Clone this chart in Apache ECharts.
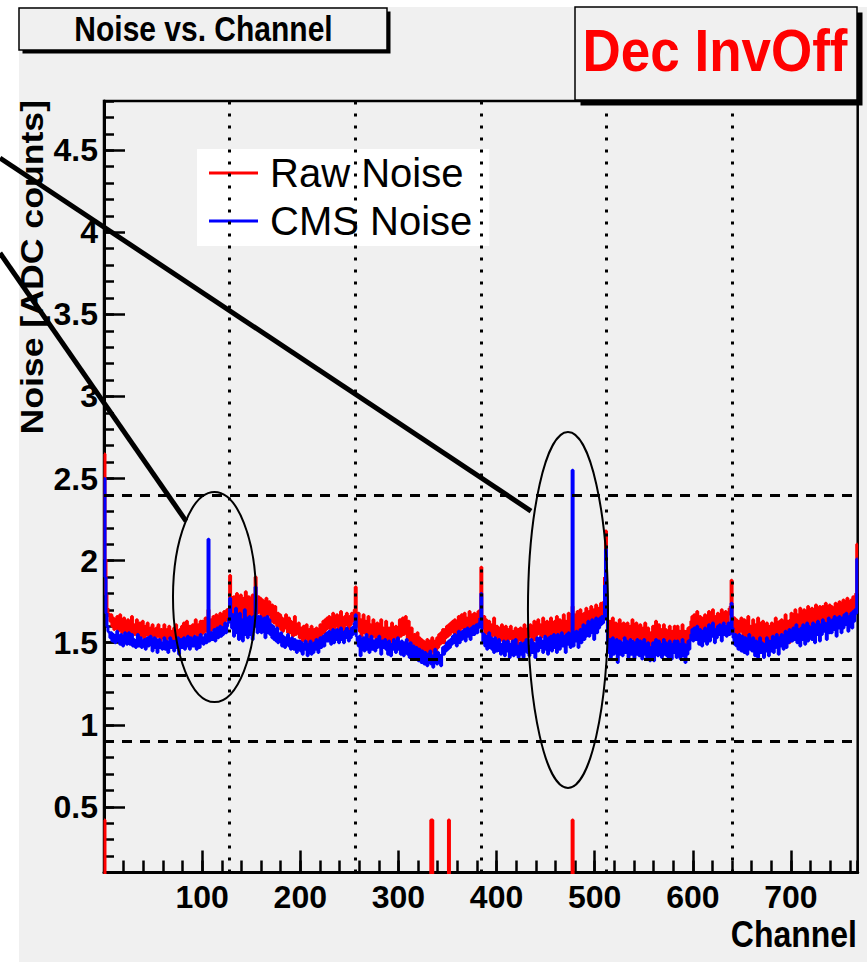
<!DOCTYPE html>
<html>
<head>
<meta charset="utf-8">
<title>Noise vs. Channel</title>
<script src="https://cdn.jsdelivr.net/npm/echarts@6/dist/echarts.min.js"></script>
<style>
  html, body { margin: 0; padding: 0; background: #fff; }
  #pad { position: absolute; left: 19px; top: 7px; width: 848px; height: 955px; background: #f0f0f0; }
  #main { position: absolute; left: 0; top: 0; width: 867px; height: 962px; }
</style>
</head>
<body>
<div id="pad"></div>
<div id="main"></div>
<script>
// noise per strip, in 1/100 ADC counts, one array per APV (128 strips each)
var rawApv1 = [
  265, 201, 179, 171, 168, 166, 163, 167, 160, 165,
  158, 164, 161, 166, 157, 162, 167, 159, 156, 163,
  165, 157, 161, 155, 164, 160, 154, 162, 166, 156,
  161, 155, 159, 164, 157, 153, 162, 158, 154, 163,
  157, 152, 160, 155, 162, 156, 151, 159, 154, 161,
  158, 153, 150, 159, 154, 161, 155, 151, 158, 153,
  156, 161, 152, 150, 158, 153, 160, 155, 151, 157,
  152, 159, 154, 161, 151, 157, 150, 158, 153, 160,
  155, 162, 153, 158, 163, 154, 151, 160, 157, 152,
  161, 155, 159, 164, 156, 152, 161, 157, 163, 155,
  163, 156, 160, 165, 157, 161, 170, 159, 156, 164,
  158, 166, 161, 157, 167, 162, 158, 165, 168, 160,
  166, 161, 169, 163, 167, 170, 164, 171
];
var rawApv2 = [
  191, 178, 172, 165, 178, 163, 174, 180, 166, 176,
  164, 179, 170, 162, 177, 167, 181, 164, 173, 178,
  165, 175, 161, 179, 170, 166, 190, 176, 168, 178,
  171, 177, 165, 176, 169, 174, 163, 177, 172, 167,
  175, 168, 163, 173, 169, 162, 172, 166, 160, 168,
  160, 167, 158, 165, 157, 164, 159, 167, 161, 156,
  165, 156, 163, 158, 154, 162, 166, 155, 161, 157,
  162, 153, 159, 155, 151, 160, 152, 156, 161, 153,
  150, 158, 154, 160, 152, 149, 158, 153, 159, 155,
  151, 157, 161, 154, 159, 163, 156, 164, 158, 165,
  159, 166, 161, 156, 164, 168, 158, 165, 160, 167,
  163, 157, 165, 169, 159, 164, 157, 166, 161, 168,
  164, 158, 166, 161, 168, 163, 167, 170
];
var rawApv3 = [
  184, 166, 160, 168, 157, 164, 154, 162, 167, 156,
  163, 155, 160, 166, 153, 161, 151, 159, 164, 154,
  160, 152, 162, 156, 150, 158, 164, 152, 159, 150,
  156, 163, 153, 149, 159, 151, 157, 162, 150, 158,
  153, 160, 155, 149, 158, 164, 154, 159, 165, 155,
  161, 166, 156, 152, 163, 157, 150, 159, 154, 148,
  155, 151, 147, 156, 146, 153, 145, 152, 147, 151,
  144, 150, 142, 152, 147, 141, 151, 145, 153, 146,
  143, 151, 145, 153, 147, 155, 149, 156, 150, 158,
  150, 158, 153, 160, 154, 161, 155, 162, 157, 163,
  156, 164, 159, 154, 162, 166, 157, 163, 167, 159,
  163, 168, 158, 165, 157, 162, 169, 158, 165, 167,
  160, 168, 163, 158, 166, 169, 161, 170
];
var rawApv4 = [
  196, 164, 159, 166, 156, 164, 160, 153, 163, 157,
  161, 154, 159, 165, 156, 151, 160, 155, 150, 159,
  154, 161, 151, 157, 149, 160, 155, 148, 158, 153,
  160, 152, 148, 157, 151, 159, 154, 147, 158, 152,
  159, 153, 149, 157, 161, 150, 156, 148, 159, 154,
  161, 155, 150, 158, 163, 152, 160, 155, 164, 156,
  161, 153, 159, 165, 155, 161, 152, 163, 157, 151,
  160, 165, 155, 161, 152, 163, 157, 166, 154, 160,
  164, 156, 162, 153, 167, 158, 163, 155, 161, 168,
  157, 163, 154, 172, 160, 167, 156, 163, 169, 158,
  163, 170, 159, 166, 157, 168, 161, 171, 158, 165,
  169, 160, 172, 164, 158, 170, 162, 173, 166, 160,
  171, 163, 174, 165, 170, 175, 190, 218
];
var rawApv5 = [
  172, 160, 154, 163, 151, 159, 165, 152, 158, 162,
  152, 160, 155, 164, 151, 158, 153, 162, 156, 160,
  152, 162, 156, 150, 160, 153, 164, 156, 150, 159,
  162, 152, 158, 150, 161, 155, 148, 159, 153, 162,
  155, 150, 159, 153, 147, 156, 151, 160, 149, 155,
  163, 154, 150, 161, 152, 158, 148, 156, 161, 151,
  158, 150, 156, 147, 160, 153, 146, 157, 151, 160,
  155, 149, 160, 151, 157, 147, 154, 161, 150, 157,
  145, 157, 151, 159, 153, 160, 163, 166, 158, 167,
  159, 164, 169, 160, 156, 166, 161, 155, 165, 159,
  167, 160, 156, 165, 169, 158, 166, 161, 170, 163,
  157, 166, 160, 168, 162, 158, 166, 170, 160, 167,
  162, 169, 164, 159, 167, 171, 172, 188
];
var rawApv6 = [
  166, 160, 165, 156, 164, 159, 153, 163, 157, 165,
  158, 153, 164, 157, 151, 161, 166, 154, 160, 152,
  158, 164, 153, 161, 150, 157, 165, 154, 149, 162,
  155, 163, 150, 158, 149, 162, 156, 148, 160, 153,
  162, 155, 149, 159, 165, 151, 160, 150, 163, 156,
  164, 157, 151, 162, 167, 154, 163, 158, 150, 164,
  168, 158, 165, 156, 170, 160, 167, 157, 163, 171,
  158, 166, 156, 170, 162, 155, 167, 172, 159, 168,
  161, 171, 164, 157, 169, 173, 159, 170, 163, 172,
  166, 158, 172, 161, 169, 174, 162, 170, 158, 173,
  163, 172, 166, 158, 169, 174, 161, 171, 164, 175,
  167, 160, 172, 176, 162, 173, 165, 177, 168, 161,
  171, 176, 166, 178, 170, 175, 180, 210
];
var cmsApv1 = [
  250, 190, 168, 160, 157, 156, 153, 156, 151, 155,
  152, 150, 155, 157, 151, 154, 149, 155, 152, 148,
  153, 156, 150, 149, 154, 156, 149, 152, 155, 148,
  152, 150, 147, 152, 155, 148, 151, 153, 147, 151,
  149, 152, 146, 150, 153, 148, 150, 154, 149, 145,
  151, 153, 147, 152, 144, 149, 152, 147, 150, 146,
  149, 153, 146, 151, 148, 144, 150, 153, 147, 151,
  148, 145, 151, 147, 150, 153, 143, 148, 152, 147,
  150, 153, 146, 151, 148, 154, 149, 146, 153, 148,
  151, 148, 154, 150, 146, 153, 150, 147, 155, 150,
  153, 149, 152, 155, 150, 153, 213, 151, 154, 156,
  152, 155, 158, 151, 156, 159, 153, 157, 160, 154,
  158, 155, 160, 162, 156, 160, 162, 165
];
var cmsApv2 = [
  177, 168, 159, 167, 154, 165, 171, 156, 163, 152,
  168, 157, 164, 151, 162, 170, 155, 165, 153, 161,
  166, 155, 163, 152, 166, 160, 184, 164, 156, 166,
  158, 166, 156, 163, 157, 165, 153, 162, 166, 156,
  164, 155, 161, 153, 160, 152, 158, 151, 159, 150,
  155, 151, 156, 148, 154, 151, 147, 153, 149, 155,
  148, 152, 146, 153, 150, 146, 152, 149, 144, 151,
  148, 151, 145, 150, 143, 148, 146, 151, 147, 142,
  149, 145, 151, 143, 148, 144, 150, 146, 152, 147,
  144, 149, 153, 147, 151, 154, 148, 155, 151, 156,
  151, 157, 153, 149, 155, 158, 150, 156, 152, 158,
  155, 150, 156, 159, 152, 156, 150, 157, 153, 159,
  156, 151, 157, 153, 159, 155, 160, 162
];
var cmsApv3 = [
  167, 154, 151, 148, 154, 142, 152, 147, 153, 145,
  150, 155, 146, 152, 144, 149, 154, 146, 151, 147,
  145, 152, 147, 149, 154, 147, 143, 151, 147, 150,
  152, 146, 149, 143, 151, 147, 142, 149, 146, 152,
  148, 144, 150, 153, 146, 149, 143, 151, 148, 142,
  150, 146, 152, 143, 148, 141, 150, 146, 140, 148,
  145, 141, 147, 144, 139, 146, 143, 138, 145, 142,
  137, 144, 141, 136, 143, 140, 145, 137, 142, 135,
  141, 146, 139, 137, 144, 141, 139, 136, 143, 147,
  143, 148, 145, 150, 146, 151, 147, 152, 149, 154,
  150, 155, 152, 148, 154, 157, 150, 155, 152, 157,
  153, 158, 151, 156, 159, 154, 157, 152, 159, 155,
  160, 155, 158, 161, 156, 159, 162, 165
];
var cmsApv4 = [
  180, 156, 150, 155, 148, 154, 146, 151, 156, 147,
  153, 146, 151, 144, 153, 149, 145, 149, 152, 145,
  143, 149, 146, 151, 142, 148, 145, 151, 146, 141,
  149, 144, 151, 142, 147, 152, 143, 148, 141, 147,
  150, 143, 148, 141, 150, 146, 152, 144, 148, 142,
  147, 152, 144, 150, 146, 141, 149, 153, 145, 150,
  153, 147, 151, 144, 150, 154, 146, 152, 143, 153,
  148, 154, 145, 151, 155, 147, 152, 144, 155, 150,
  146, 152, 156, 148, 154, 150, 144, 155, 149, 156,
  151, 147, 153, 255, 148, 155, 151, 157, 152, 147,
  155, 158, 150, 157, 161, 152, 158, 154, 161, 163,
  154, 160, 156, 164, 158, 152, 162, 165, 156, 163,
  159, 165, 161, 166, 162, 165, 185, 207
];
var cmsApv5 = [
  165, 149, 144, 152, 141, 148, 153, 143, 150, 146,
  152, 138, 147, 151, 143, 150, 142, 148, 153, 144,
  151, 146, 141, 149, 152, 143, 151, 147, 140, 150,
  143, 152, 147, 142, 151, 146, 140, 148, 152, 143,
  148, 141, 150, 145, 139, 147, 142, 150, 139, 146,
  152, 145, 142, 151, 144, 149, 141, 147, 152, 143,
  150, 142, 148, 140, 151, 145, 140, 149, 144, 151,
  146, 141, 151, 143, 149, 140, 147, 152, 142, 149,
  138, 147, 143, 151, 146, 152, 155, 158, 151, 159,
  152, 156, 160, 152, 149, 158, 154, 148, 157, 151,
  159, 153, 149, 157, 161, 151, 158, 154, 162, 155,
  150, 158, 153, 160, 155, 161, 156, 151, 159, 162,
  155, 160, 154, 158, 162, 155, 161, 174
];
var cmsApv6 = [
  159, 153, 149, 155, 148, 153, 146, 155, 150, 145,
  154, 150, 144, 153, 148, 143, 151, 155, 146, 150,
  145, 153, 149, 142, 151, 147, 141, 149, 153, 144,
  150, 147, 141, 149, 145, 153, 148, 142, 151, 145,
  149, 154, 144, 152, 147, 155, 150, 143, 153, 148,
  155, 150, 146, 154, 157, 147, 155, 150, 158, 151,
  156, 151, 159, 152, 157, 161, 150, 158, 154, 148,
  159, 152, 161, 155, 149, 158, 162, 151, 160, 154,
  159, 152, 162, 156, 150, 161, 155, 163, 157, 151,
  161, 155, 164, 157, 162, 159, 152, 162, 165, 156,
  161, 156, 164, 158, 166, 160, 154, 165, 159, 166,
  161, 156, 165, 159, 167, 161, 168, 162, 157, 166,
  161, 168, 159, 169, 163, 170, 168, 201
];

var badStrips = [0, 333, 334, 351, 477];   // flagged strips
var badLevel = 0.42;
var apvEdges = [128, 256, 384, 512, 640];
var cutLevels = [2.4, 1.4, 1.3, 0.9];
var xTicks = [100, 200, 300, 400, 500, 600, 700];
var yTicks = [0.5, 1, 1.5, 2, 2.5, 3, 3.5, 4, 4.5];

var FONT = '"Liberation Sans", Arial, Helvetica, sans-serif';

// histogram as step line: bin i spans [i, i+1]
function toSteps(apvs) {
  var vals = [].concat.apply([], apvs);
  var pts = [];
  for (var i = 0; i < vals.length; i++) pts.push([i, vals[i] / 100]);
  pts.push([vals.length, vals[vals.length - 1] / 100]);
  return pts;
}
var rawPts = toSteps([rawApv1, rawApv2, rawApv3, rawApv4, rawApv5, rawApv6]);
var cmsPts = toSteps([cmsApv1, cmsApv2, cmsApv3, cmsApv4, cmsApv5, cmsApv6]);
var nStrips = rawPts.length - 1;
var badPts = [];
for (var i = 0; i <= nStrips; i++) {
  badPts.push([i, badStrips.indexOf(i) >= 0 ? badLevel : 0]);
}

var chart = echarts.init(document.getElementById('main'), null, { renderer: 'svg' });

var tickStyle = { color: '#000', width: 2.5 };
var labelStyle = { color: '#000', fontSize: 32, fontWeight: 'bold', fontFamily: FONT };

var guides = apvEdges.map(function (c) {
  return { xAxis: c, lineStyle: { color: '#000', width: 3, type: [3, 9] } };
}).concat(cutLevels.map(function (v) {
  return { yAxis: v, lineStyle: { color: '#000', width: 3, type: [10, 8] } };
}));

chart.setOption({
  animation: false,
  textStyle: { fontFamily: FONT },
  grid: {
    left: 104, right: 9.3, top: 101, bottom: 89.5,
    show: true, borderColor: '#000', borderWidth: 2.5, backgroundColor: 'transparent'
  },
  legend: {
    data: ['Raw Noise', 'CMS Noise'],
    orient: 'vertical', left: 197, top: 149,
    backgroundColor: '#fff', borderWidth: 0,
    padding: [2, 17, 3, 12],
    icon: 'rect', itemWidth: 49, itemHeight: 3, itemGap: 4,
    selectedMode: false,
    textStyle: { fontSize: 40, color: '#000', fontFamily: FONT, lineHeight: 44, padding: [0, 0, 0, 7] }
  },
  xAxis: [{
    type: 'value', min: 0, max: nStrips, position: 'bottom',
    axisLine: { show: true, onZero: false, lineStyle: { color: '#000', width: 3 } },
    axisTick: { inside: true, length: 22, customValues: xTicks, lineStyle: tickStyle },
    axisLabel: Object.assign({ customValues: xTicks, margin: 8 }, labelStyle),
    splitLine: { show: false }
  }, {
    type: 'value', min: 0, max: nStrips, interval: 20, position: 'bottom',
    axisLine: { show: false, onZero: false },
    axisTick: { inside: true, length: 12, lineStyle: tickStyle },
    axisLabel: { show: false },
    splitLine: { show: false }
  }],
  yAxis: [{
    type: 'value', min: 0.1, max: 4.8, position: 'left',
    axisLine: { show: true, onZero: false, lineStyle: { color: '#000', width: 3 } },
    axisTick: { inside: true, length: 21, customValues: yTicks, lineStyle: tickStyle },
    axisLabel: Object.assign({ customValues: yTicks, margin: 6 }, labelStyle),
    splitLine: { show: false }
  }, {
    type: 'value', min: 0.1, max: 4.8, interval: 0.1, position: 'left',
    axisLine: { show: false, onZero: false },
    axisTick: { inside: true, length: 10, lineStyle: tickStyle },
    axisLabel: { show: false },
    splitLine: { show: false }
  }],
  series: [{
    name: 'Raw Noise', type: 'line', step: 'end', data: rawPts,
    xAxisIndex: 0, yAxisIndex: 0, symbol: 'none',
    itemStyle: { color: '#ff0000' }, lineStyle: { color: '#ff0000', width: 3 },
    markLine: { silent: true, symbol: 'none', label: { show: false }, animation: false, data: guides }
  }, {
    name: 'CMS Noise', type: 'line', step: 'end', data: cmsPts,
    xAxisIndex: 0, yAxisIndex: 0, symbol: 'none',
    itemStyle: { color: '#0000ff' }, lineStyle: { color: '#0000ff', width: 3 }
  }, {
    name: 'Bad strips', type: 'line', step: 'end', data: badPts,
    xAxisIndex: 0, yAxisIndex: 0, symbol: 'none', clip: true,
    itemStyle: { color: '#ff0000' }, lineStyle: { color: '#ff0000', width: 3 }
  }]
});

// annotations placed in data coordinates
function at(ch, v) { return chart.convertToPixel({ xAxisIndex: 0, yAxisIndex: 0 }, [ch, v]); }
function ring(ch, v, dch, dv) {
  var c = at(ch, v), e = at(ch + dch, v + dv);
  return { type: 'ellipse', z: 50, silent: true,
    shape: { cx: c[0], cy: c[1], rx: e[0] - c[0], ry: c[1] - e[1] },
    style: { fill: 'none', stroke: '#000', lineWidth: 2 } };
}
function pointer(ch0, v0, ch1, v1) {
  var a = at(ch0, v0), b = at(ch1, v1);
  return { type: 'line', z: 50, silent: true,
    shape: { x1: a[0], y1: a[1], x2: b[0], y2: b[1] },
    style: { stroke: '#000', lineWidth: 5 } };
}
function label(txt, x, y, size, color, align, extra) {
  var el = { type: 'text', z: 60, silent: true, x: x, y: y,
    style: { text: txt, fill: color, font: 'bold ' + size + 'px ' + FONT,
      align: align, textAlign: align, verticalAlign: 'middle', textVerticalAlign: 'middle' } };
  return Object.assign(el, extra || {});
}
function box(x, y, w, h, sh) {
  return [
    { type: 'rect', z: 55, silent: true, shape: { x: x + sh, y: y + sh, width: w, height: h }, style: { fill: '#000' } },
    { type: 'rect', z: 56, silent: true, shape: { x: x, y: y, width: w, height: h },
      style: { fill: '#f0f0f0', stroke: '#000', lineWidth: 1.5 } }
  ];
}

chart.setOption({
  graphic: [
    ring(112.6, 1.778, 42.3, 0.640),
    ring(472.8, 1.699, 40.8, 1.084),
    pointer(-106, 4.453, 435.1, 2.302),
    pointer(-106, 3.874, 83.6, 2.241)
  ].concat(box(19, 8, 368, 42, 3.5))
   .concat(box(575, 7, 282, 93, 5.5))
   .concat([
    label('Noise vs. Channel', 203.5, 29, 30, '#000', 'center', { scaleY: 1.15 }),
    label('Dec InvOff', 715, 51, 53, '#ff0000', 'center', { scaleY: 1.1 }),
    label('Channel', 857, 934, 32, '#000', 'right', { scaleY: 1.15 }),
    label('Noise [ADC counts]', 32, 100, 31, '#000', 'right', { rotation: Math.PI / 2, scaleX: 1.15 })
  ])
});
</script>
</body>
</html>
